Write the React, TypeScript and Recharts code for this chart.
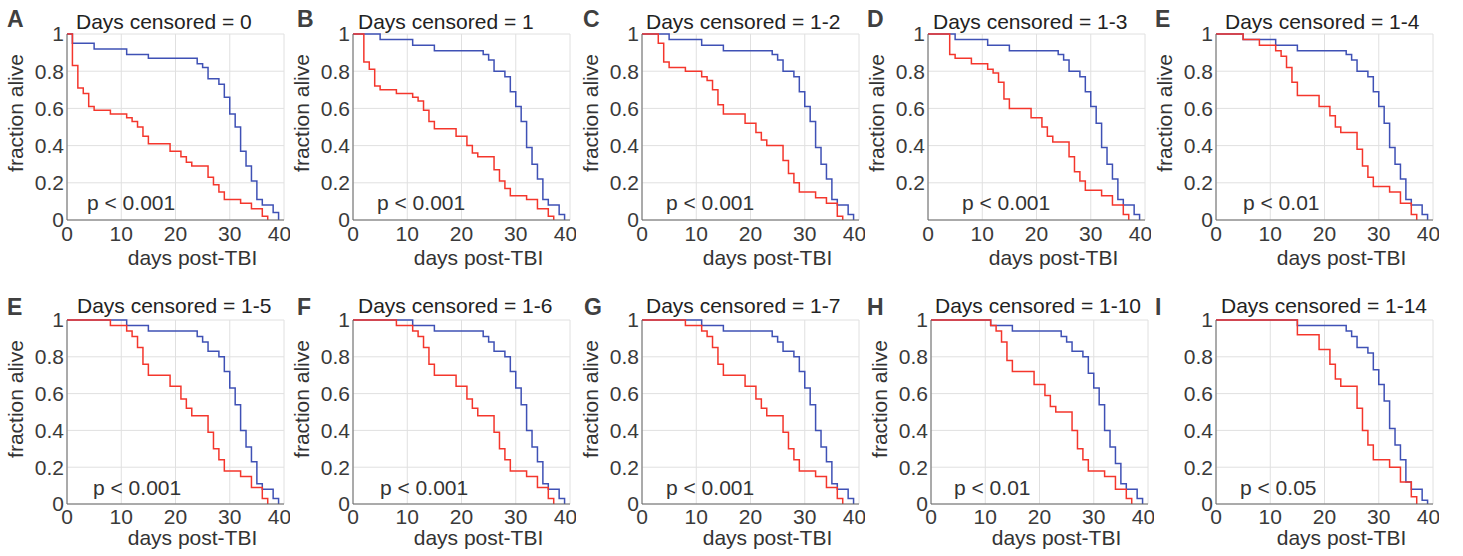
import React from 'react';
import { LineChart, Line, XAxis, YAxis, CartesianGrid } from 'recharts';

// ---- data (days post-TBI, fraction alive) ----
const letters = ['A', 'B', 'C', 'D', 'E', 'E', 'F', 'G', 'H', 'I'];
const censored = ['0', '1', '1-2', '1-3', '1-4', '1-5', '1-6', '1-7', '1-10', '1-14'];
const pValues = ['p < 0.001', 'p < 0.001', 'p < 0.001', 'p < 0.001', 'p < 0.01', 'p < 0.001', 'p < 0.001', 'p < 0.001', 'p < 0.01', 'p < 0.05'];

const xTicks = [0, 10, 20, 30, 40];
const yTicks = [0, 0.2, 0.4, 0.6, 0.8, 1];
const yTicksNoZero = [0.2, 0.4, 0.6, 0.8, 1];

// A
const redA_t = [0, 1, 2, 3, 4, 5, 8, 11, 12, 13, 14, 15, 19, 21, 22, 23, 26, 27, 28, 29, 32, 34, 36, 37];
const redA_s = [1, 0.83, 0.71, 0.68, 0.61, 0.59, 0.57, 0.55, 0.53, 0.5, 0.45, 0.41, 0.37, 0.34, 0.31, 0.29, 0.23, 0.19, 0.15, 0.11, 0.09, 0.06, 0.02, 0];
const blueA_t = [0, 1, 5, 11, 15, 24, 25, 26, 28, 29, 30, 31, 32, 33, 34, 35, 36, 38, 39];
const blueA_s = [1, 0.95, 0.92, 0.89, 0.87, 0.84, 0.82, 0.76, 0.73, 0.66, 0.57, 0.5, 0.37, 0.29, 0.21, 0.11, 0.08, 0.04, 0];

// B
const redB_t = [0, 2, 3, 4, 5, 8, 11, 12, 13, 14, 15, 19, 21, 22, 23, 26, 27, 28, 29, 32, 34, 36, 37];
const redB_s = [1, 0.85, 0.81, 0.72, 0.7, 0.68, 0.66, 0.64, 0.59, 0.53, 0.49, 0.45, 0.4, 0.36, 0.34, 0.27, 0.21, 0.17, 0.13, 0.11, 0.06, 0.02, 0];
const blueB_t = [0, 5, 11, 15, 24, 25, 26, 28, 29, 30, 31, 32, 33, 34, 35, 36, 38, 39];
const blueB_s = [1, 0.97, 0.94, 0.91, 0.89, 0.86, 0.8, 0.77, 0.69, 0.61, 0.53, 0.39, 0.3, 0.22, 0.11, 0.08, 0.03, 0];

// C
const redC_t = [0, 3, 4, 5, 8, 11, 12, 13, 14, 15, 19, 21, 22, 23, 26, 27, 28, 29, 32, 34, 36, 37];
const redC_s = [1, 0.95, 0.85, 0.82, 0.8, 0.77, 0.75, 0.7, 0.62, 0.57, 0.52, 0.47, 0.43, 0.4, 0.32, 0.25, 0.2, 0.15, 0.12, 0.09, 0.02, 0];
const blueC_t = [0, 5, 11, 15, 24, 25, 26, 28, 29, 30, 31, 32, 33, 34, 35, 36, 38, 39];
const blueC_s = [1, 0.97, 0.94, 0.91, 0.89, 0.86, 0.8, 0.77, 0.69, 0.61, 0.53, 0.39, 0.3, 0.22, 0.11, 0.08, 0.03, 0];

// D
const redD_t = [0, 4, 5, 8, 11, 12, 13, 14, 15, 19, 21, 22, 23, 26, 27, 28, 29, 32, 34, 36, 37];
const redD_s = [1, 0.89, 0.87, 0.84, 0.81, 0.79, 0.74, 0.65, 0.6, 0.55, 0.5, 0.45, 0.42, 0.34, 0.26, 0.21, 0.16, 0.13, 0.08, 0.03, 0];
const blueD_t = [0, 5, 11, 15, 24, 25, 26, 28, 29, 30, 31, 32, 33, 34, 35, 36, 38, 39];
const blueD_s = [1, 0.97, 0.94, 0.91, 0.89, 0.86, 0.8, 0.77, 0.69, 0.61, 0.52, 0.39, 0.3, 0.22, 0.11, 0.08, 0.03, 0];

// E (1-4)
const redE_t = [0, 5, 8, 11, 12, 13, 14, 15, 19, 21, 22, 23, 26, 27, 28, 29, 32, 34, 36, 37];
const redE_s = [1, 0.97, 0.94, 0.91, 0.88, 0.82, 0.74, 0.67, 0.61, 0.56, 0.5, 0.47, 0.38, 0.29, 0.23, 0.18, 0.15, 0.09, 0.03, 0];
const blueE_t = [0, 5, 11, 15, 24, 25, 26, 28, 29, 30, 31, 32, 33, 34, 35, 36, 38, 39];
const blueE_s = [1, 0.97, 0.94, 0.91, 0.89, 0.86, 0.8, 0.77, 0.69, 0.61, 0.52, 0.39, 0.3, 0.22, 0.11, 0.08, 0.03, 0];

// E (1-5)
const redE5_t = [0, 8, 11, 12, 13, 14, 15, 19, 21, 22, 23, 26, 27, 28, 29, 32, 34, 36, 37];
const redE5_s = [1, 0.97, 0.94, 0.91, 0.85, 0.76, 0.7, 0.64, 0.57, 0.52, 0.48, 0.39, 0.3, 0.24, 0.18, 0.15, 0.09, 0.03, 0];
const blueE5_t = [0, 11, 15, 24, 25, 26, 28, 29, 30, 31, 32, 33, 34, 35, 36, 38, 39];
const blueE5_s = [1, 0.97, 0.94, 0.91, 0.88, 0.83, 0.8, 0.72, 0.63, 0.54, 0.4, 0.31, 0.23, 0.11, 0.08, 0.03, 0];

// F
const redF_t = [0, 8, 11, 12, 13, 14, 15, 19, 21, 22, 23, 26, 27, 28, 29, 32, 34, 36, 37];
const redF_s = [1, 0.97, 0.94, 0.91, 0.85, 0.76, 0.7, 0.64, 0.57, 0.52, 0.48, 0.39, 0.3, 0.24, 0.18, 0.15, 0.09, 0.03, 0];
const blueF_t = [0, 11, 15, 24, 25, 26, 28, 29, 30, 31, 32, 33, 34, 35, 36, 38, 39];
const blueF_s = [1, 0.97, 0.94, 0.91, 0.88, 0.83, 0.8, 0.72, 0.63, 0.54, 0.4, 0.31, 0.23, 0.11, 0.08, 0.03, 0];

// G
const redG_t = [0, 8, 11, 12, 13, 14, 15, 19, 21, 22, 23, 26, 27, 28, 29, 32, 34, 36, 37];
const redG_s = [1, 0.97, 0.94, 0.91, 0.85, 0.76, 0.7, 0.64, 0.57, 0.52, 0.48, 0.39, 0.3, 0.24, 0.18, 0.15, 0.09, 0.03, 0];
const blueG_t = [0, 11, 15, 24, 25, 26, 28, 29, 30, 31, 32, 33, 34, 35, 36, 38, 39];
const blueG_s = [1, 0.97, 0.94, 0.91, 0.88, 0.83, 0.8, 0.72, 0.63, 0.54, 0.4, 0.31, 0.23, 0.11, 0.08, 0.03, 0];

// H
const redH_t = [0, 11, 12, 13, 14, 15, 19, 21, 22, 23, 26, 27, 28, 29, 32, 34, 36, 37];
const redH_s = [1, 0.97, 0.94, 0.88, 0.78, 0.72, 0.65, 0.59, 0.53, 0.5, 0.4, 0.3, 0.24, 0.18, 0.15, 0.08, 0.03, 0];
const blueH_t = [0, 11, 15, 24, 25, 26, 28, 29, 30, 31, 32, 33, 34, 35, 36, 38, 39];
const blueH_s = [1, 0.97, 0.94, 0.91, 0.88, 0.83, 0.8, 0.71, 0.63, 0.54, 0.4, 0.31, 0.22, 0.11, 0.08, 0.03, 0];

// I
const redI_t = [0, 15, 19, 21, 22, 23, 26, 27, 28, 29, 32, 34, 36, 37];
const redI_s = [1, 0.92, 0.84, 0.76, 0.68, 0.64, 0.52, 0.4, 0.32, 0.24, 0.2, 0.12, 0.04, 0];
const blueI_t = [0, 15, 24, 25, 26, 28, 29, 30, 31, 32, 33, 34, 35, 36, 38, 39];
const blueI_s = [1, 0.97, 0.94, 0.91, 0.85, 0.82, 0.73, 0.65, 0.56, 0.41, 0.32, 0.24, 0.12, 0.08, 0.02, 0];

const redCurves = [[redA_t, redA_s], [redB_t, redB_s], [redC_t, redC_s], [redD_t, redD_s], [redE_t, redE_s],
  [redE5_t, redE5_s], [redF_t, redF_s], [redG_t, redG_s], [redH_t, redH_s], [redI_t, redI_s]];
const blueCurves = [[blueA_t, blueA_s], [blueB_t, blueB_s], [blueC_t, blueC_s], [blueD_t, blueD_s], [blueE_t, blueE_s],
  [blueE5_t, blueE5_s], [blueF_t, blueF_s], [blueG_t, blueG_s], [blueH_t, blueH_s], [blueI_t, blueI_s]];

// ---- layout ----
const FONT = '"Liberation Sans", Arial, Helvetica, sans-serif';
const RED = '#f4362c';
const BLUE = '#3f51b5';
const PLOT_W = 217;
const Y_AXIS_W = 67;

const ROWS = [
  { chartTop: 0, height: 270, marginTop: 34, marginBottom: 5, plotH: 186, letterY: 27, titleY: 29, pY: 210, xLabelDy: 45, tickMargin: 6 },
  { chartTop: 280, height: 276, marginTop: 40, marginBottom: 7, plotH: 184, letterY: 315, titleY: 313, pY: 495, xLabelDy: 41, tickMargin: 5 },
];

// per panel: row, plot left edge, letter x, title / p-value offsets
const LAYOUT = [
  { row: 0, pl: 67, lx: 7, tdx: 9, pdx: 20 },
  { row: 0, pl: 353, lx: 297, tdx: 5, pdx: 24 },
  { row: 0, pl: 642, lx: 583, tdx: 4, pdx: 24 },
  { row: 0, pl: 928, lx: 867, tdx: 5, pdx: 34 },
  { row: 0, pl: 1216, lx: 1155, tdx: 9, pdx: 27 },
  { row: 1, pl: 67, lx: 7, tdx: 10, pdx: 26 },
  { row: 1, pl: 353, lx: 297, tdx: 5, pdx: 27 },
  { row: 1, pl: 642, lx: 584, tdx: 4, pdx: 24 },
  { row: 1, pl: 931, lx: 867, tdx: 4, pdx: 23 },
  { row: 1, pl: 1216, lx: 1155, tdx: 5, pdx: 24 },
];

const toPoints = (t: number[], s: number[]) => t.map((d, i) => ({ t: d, s: s[i] }));

function Panel({ idx }: { idx: number }) {
  const lay = LAYOUT[idx];
  const row = ROWS[lay.row];
  const red = toPoints(redCurves[idx][0], redCurves[idx][1]);
  const blue = toPoints(blueCurves[idx][0], blueCurves[idx][1]);
  const ticksY = letters[idx] === 'D' ? yTicksNoZero : yTicks;
  const showYLabel = letters[idx] !== 'I';
  const yLabelX = Y_AXIS_W - 44;
  const yLabelY = row.marginTop + 79;

  return (
    <div style={{ position: 'absolute', left: lay.pl - Y_AXIS_W, top: row.chartTop }}>
      <LineChart
        width={Y_AXIS_W + PLOT_W + 6}
        height={row.height}
        margin={{ top: row.marginTop, right: 6, bottom: row.marginBottom, left: 0 }}
      >
        <CartesianGrid stroke="#e0e0e0" strokeWidth={1} />
        <XAxis
          type="number"
          dataKey="t"
          domain={[0, 40]}
          ticks={xTicks}
          height={45}
          tickSize={0}
          tickMargin={row.tickMargin}
          axisLine={{ stroke: '#666', strokeWidth: 1 }}
          tickLine={false}
          tick={{ fill: '#3a3a3a', fontSize: 21, fontFamily: FONT }}
          label={() => (
            <text
              x={Y_AXIS_W + PLOT_W / 2 + 17}
              y={row.marginTop + row.plotH + row.xLabelDy}
              textAnchor="middle"
              fill="#333"
              fontSize={21}
              fontFamily={FONT}
            >
              days post-TBI
            </text>
          )}
        />
        <YAxis
          type="number"
          domain={[0, 1]}
          ticks={ticksY}
          width={Y_AXIS_W}
          tickSize={0}
          tickMargin={3}
          axisLine={{ stroke: '#666', strokeWidth: 1 }}
          tickLine={false}
          tick={{ fill: '#3a3a3a', fontSize: 21, fontFamily: FONT }}
          tickFormatter={(v: number) => String(v)}
          label={
            showYLabel
              ? () => (
                  <text
                    x={yLabelX}
                    y={yLabelY}
                    transform={`rotate(-90, ${yLabelX}, ${yLabelY})`}
                    textAnchor="middle"
                    fill="#333"
                    fontSize={21}
                    fontFamily={FONT}
                  >
                    fraction alive
                  </text>
                )
              : undefined
          }
        />
        <Line data={blue} dataKey="s" type="stepAfter" stroke={BLUE} strokeWidth={1.5} dot={false} isAnimationActive={false} />
        <Line data={red} dataKey="s" type="stepAfter" stroke={RED} strokeWidth={1.5} dot={false} isAnimationActive={false} />
      </LineChart>
    </div>
  );
}

export default function App() {
  return (
    <div style={{ position: 'absolute', left: 0, top: 0, width: 1463, height: 556, background: '#fff', overflow: 'hidden' }}>
      {LAYOUT.map((_, i) => (
        <Panel key={i} idx={i} />
      ))}
      <svg width={1463} height={556} style={{ position: 'absolute', left: 0, top: 0, pointerEvents: 'none' }}>
        {LAYOUT.map((lay, i) => {
          const row = ROWS[lay.row];
          return (
            <g key={i} fontFamily={FONT}>
              <text x={lay.lx} y={row.letterY} fontSize={23} fontWeight="bold" fill="#404040">
                {letters[i]}
              </text>
              <text x={lay.pl + lay.tdx} y={row.titleY} fontSize={21} fill="#222">
                {`Days censored = ${censored[i]}`}
              </text>
              <text x={lay.pl + lay.pdx} y={row.pY} fontSize={21} fill="#333">
                {pValues[i]}
              </text>
            </g>
          );
        })}
      </svg>
    </div>
  );
}
